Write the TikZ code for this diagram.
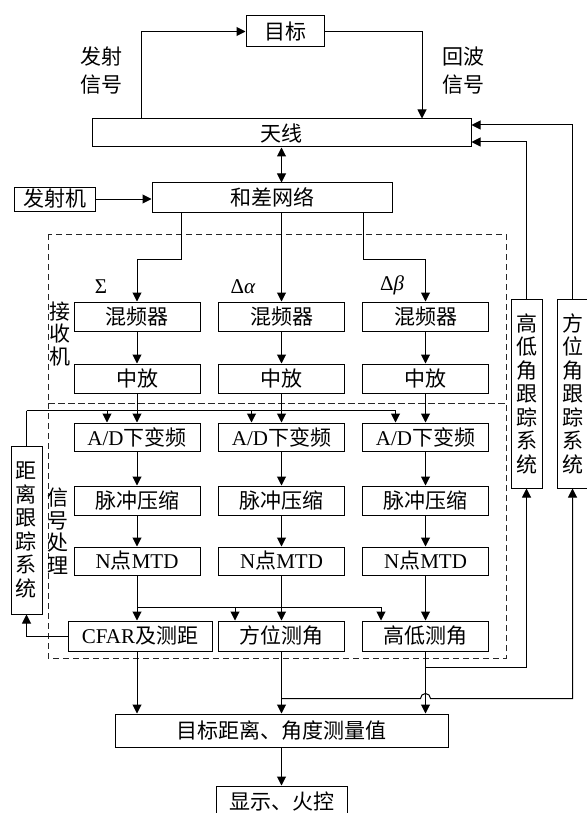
\documentclass[tikz,border=0pt]{standalone}
\usepackage{fontspec}
\setmainfont{Liberation Serif}
\newfontfamily\cjk{Noto Sans CJK SC}
\usetikzlibrary{arrows.meta}

\tikzset{
  box/.style={draw, line width=1pt, inner sep=0pt, minimum height=29pt,
    font=\fontsize{21}{23.5}\selectfont\cjk},
  colbox/.style={box, minimum width=126pt},
  vbox/.style={draw, line width=1pt, inner sep=0pt, minimum width=31pt, align=center,
    font=\fontsize{21}{23.5}\selectfont\cjk},
  lbl/.style={inner sep=0pt, align=center, font=\fontsize{21}{22.5}\selectfont\cjk},
  greek/.style={inner sep=0pt, font=\fontsize{21}{23}\selectfont\rmfamily},
  ln/.style={line width=1pt},
  arr/.style={line width=1pt, -{Triangle[length=9pt,width=9pt]}},
  dashbox/.style={line width=1pt, dash pattern=on 6pt off 4pt, black!85}
}

\begin{document}
\begin{tikzpicture}[x=1pt,y=-1pt]
  \useasboundingbox (0,0) rectangle (586,813);

  % Target, antenna and transmitter
  \node[box, minimum width=78pt, minimum height=31pt] (target) at (285,31.5) {目标};
  \node[box, minimum width=379pt, minimum height=28pt] (antenna) at (281.5,133) {天线};
  \node[box, minimum width=240pt] (sumdiff) at (272,197.5) {和差网络};
  \node[box, minimum width=81pt, minimum height=24pt] (transmitter) at (54.5,199) {发射机};
  \node[lbl, font=\fontsize{21}{28}\selectfont\cjk] (txsig) at (101,71) {发射\\信号};
  \node[lbl, font=\fontsize{21}{28}\selectfont\cjk] (echosig) at (463,71) {回波\\信号};

  % Receiver and signal processing frames
  \draw[dashbox] (48,234) rectangle (506,403);
  \draw[dashbox] (48,403) rectangle (506,658);
  \node[lbl] (rxlbl) at (60,334) {接\\收\\机};
  \node[lbl] (splbl) at (58,531) {信\\号\\处\\理};

  % Three channels
  \foreach \c/\x in {L/137,M/281.5,R/425.5} {
    \node[colbox] (mix\c) at (\x,316.5) {混频器};
    \node[colbox] (if\c) at (\x,378.5) {中放};
    \node[colbox, minimum height=28pt] (ad\c) at (\x,437) {{\rmfamily A/D}下变频};
    \node[colbox] (pc\c) at (\x,500.5) {脉冲压缩};
    \node[colbox, minimum height=28pt] (mtd\c) at (\x,561) {{\rmfamily N}点{\rmfamily MTD}};
    \draw[arr] (mix\c) -- (if\c);
    \draw[arr] (if\c) -- (ad\c);
    \draw[arr] (ad\c) -- (pc\c);
    \draw[arr] (pc\c) -- (mtd\c);
  }
  \node[greek] (sigma) at (101,287) {Σ};
  \node[greek] (dalpha) at (243,287) {Δ\textit{α}};
  \node[greek] (dbeta) at (392,285) {Δ\textit{β}};

  % Measurement row
  \node[box, minimum width=144pt, minimum height=30pt] (cfar) at (140,636) {{\rmfamily CFAR}及测距};
  \node[colbox, minimum height=30pt] (az) at (281.5,636) {方位测角};
  \node[colbox, minimum height=30pt] (el) at (425.5,636) {高低测角};
  \node[box, minimum width=333pt, minimum height=33pt] (result) at (281.5,730.5) {目标距离、角度测量值};
  \node[box, minimum width=131pt, minimum height=32pt] (display) at (281.5,802) {显示、火控};

  % Tracking systems
  \node[vbox, minimum height=168pt] (rangetr) at (26.5,530) {距\\离\\跟\\踪\\系\\统};
  \node[vbox, minimum height=189pt] (eltr) at (526.5,393.5) {高\\低\\角\\跟\\踪\\系\\统};
  \node[vbox, minimum height=189pt] (aztr) at (572.5,393.5) {方\\位\\角\\跟\\踪\\系\\统};

  % Transmit and echo paths
  \draw[arr] ([xshift=50pt]antenna.north west) |- (target.west);
  \draw[arr] (target.east) -| ([xshift=140.5pt]antenna.north);
  \draw[line width=1pt, {Triangle[length=9pt,width=9pt]}-{Triangle[length=9pt,width=9pt]}]
    (antenna.south) -- (antenna.south |- sumdiff.north);
  \draw[arr] (transmitter.east) -- (transmitter.east -| sumdiff.west);

  % Sum and difference outputs
  \draw[arr] ([xshift=-91pt]sumdiff.south) -- ++(0,47) -| (mixL.north);
  \draw[arr] (sumdiff.south -| mixM.north) -- (mixM.north);
  \draw[arr] ([xshift=91pt]sumdiff.south) -- ++(0,47) -| (mixR.north);

  % Range tracking loop
  \path (rangetr.north) ++(0,-35) coordinate (rt);
  \draw[ln] (rangetr.north) -- (rt);
  \foreach \c in {L,M,R}
    \draw[arr] (rt) -| ([xshift=-30pt]ad\c.north);
  \draw[arr] (cfar.west) -| (rangetr.south);

  % MTD outputs
  \draw[arr] (mtdL.south) -- (mtdL.south |- cfar.north);
  \path (mtdL.south) ++(0,32) coordinate (br);
  \draw[arr] (br) -| ([xshift=17pt]az.north west);
  \draw[arr] (br) -| ([xshift=19pt]el.north west);
  \draw[arr] (mtdM) -- (az);
  \draw[arr] (mtdR) -- (el);

  % To measured values and angle tracking
  \draw[arr] (mtdL.south |- cfar.south) -- (mtdL.south |- result.north);
  \draw[arr] (az) -- (az |- result.north);
  \draw[arr] (el) -- (el |- result.north);
  \path (el.south) ++(0,16) coordinate (je);
  \draw[arr] (je) -| (eltr.south);
  \path (az.south) ++(0,47) coordinate (ja);
  \draw[arr] (ja) -- ([xshift=-5pt]ja -| el.south)
    arc[start angle=180, end angle=0, radius=5pt] -| (aztr.south);
  \draw[arr] (eltr.north) |- ([yshift=-9pt]antenna.east);
  \draw[arr] (aztr.north) |- ([yshift=8pt]antenna.east);
  \draw[arr] (result) -- (display);
\end{tikzpicture}
\end{document}
